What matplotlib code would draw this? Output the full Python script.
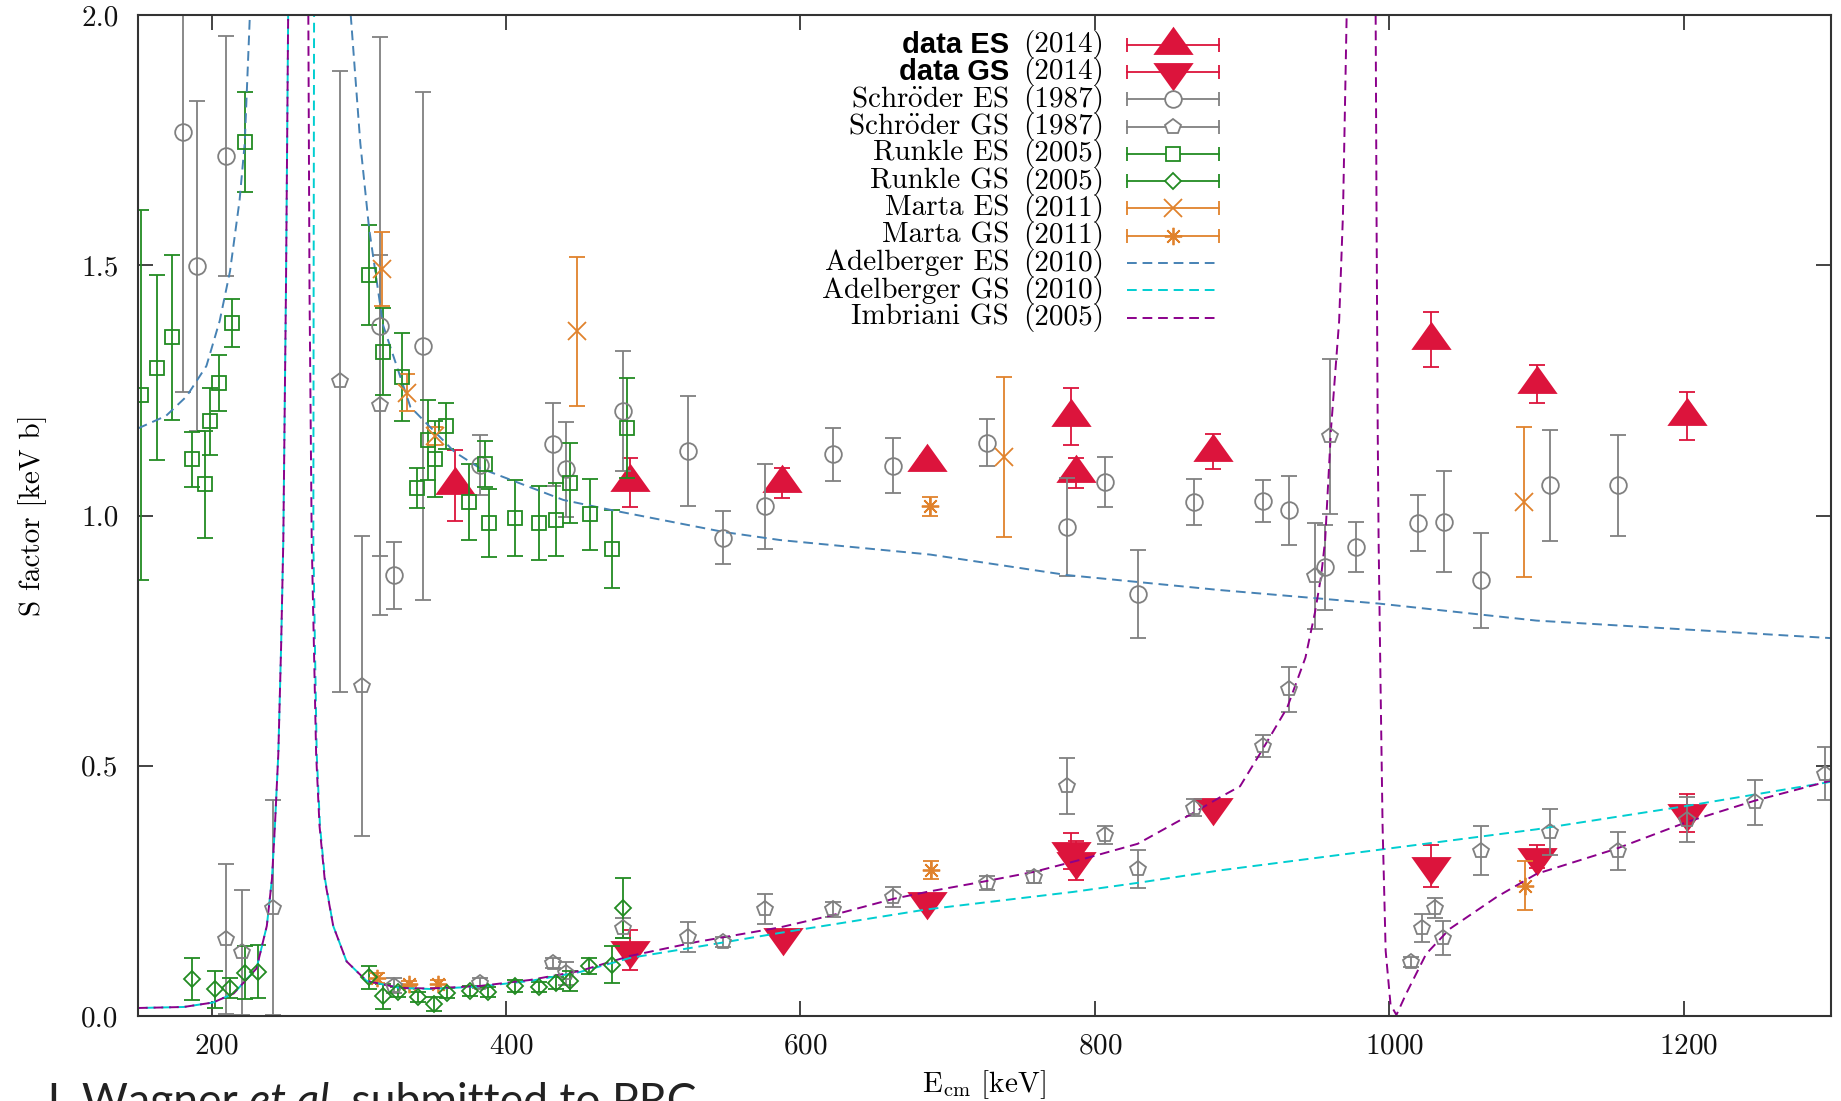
import numpy as np
import matplotlib
matplotlib.use('Agg')
import matplotlib.pyplot as plt
from matplotlib.path import Path
from matplotlib.transforms import ScaledTranslation

plt.rcParams['font.family'] = ['cmr10', 'DejaVu Serif']
plt.rcParams['mathtext.fontset'] = 'cm'
plt.rcParams['axes.formatter.use_mathtext'] = True

nan = np.nan

# ---- measured S factors (E_cm in keV, S in keV b) ----
es14_E = [365, 484, 587.5, 686, 784, 787, 880, 1028, 1100, 1202]
es14_S = [1.06, 1.066, 1.065, 1.106, 1.197, 1.084, 1.127, 1.351, 1.263, 1.199]
es14_dS = [0.071, 0.049, 0.03, 0.012, 0.057, 0.03, 0.035, 0.055, 0.038, 0.048]

gs14_E = [484, 588, 686, 784, 787, 880, 1028, 1100, 1202]
gs14_S = [0.132, 0.157, 0.23, 0.33, 0.31, 0.418, 0.30, 0.318, 0.405]
gs14_dS = [0.04, 0.01, 0.01, 0.036, 0.039, 0.01, 0.042, 0.023, 0.038]

schr_es_E = [180.8, 189.9, 209.8, 314.4, 324.1, 343.4, 382, 431.7, 441, 479.7,
             523.4, 547.6, 576, 622.4, 663.1, 727, 781.3, 807, 829, 867.4,
             913.9, 931.6, 956.4, 977.3, 1019.6, 1037, 1062, 1108.9, 1155.4]
schr_es_S = [1.767, 1.498, 1.718, 1.379, 0.881, 1.339, 1.10, 1.142, 1.092, 1.209,
             1.129, 0.956, 1.018, 1.122, 1.099, 1.145, 0.977, 1.067, 0.844, 1.027,
             1.029, 1.01, 0.897, 0.938, 0.985, 0.988, 0.871, 1.06, 1.06]
schr_es_dS = [0.52, 0.33, 0.24, 0.578, 0.067, 0.507, 0.06, 0.083, 0.095, 0.12,
              0.11, 0.052, 0.085, 0.053, 0.055, 0.047, 0.098, 0.05, 0.088, 0.045,
              0.041, 0.068, 0.085, 0.05, 0.055, 0.1, 0.095, 0.11, 0.1]

schr_gs_E = [209.8, 220.6, 241.9, 287.2, 302.4, 314.4, 324.1, 382.3, 431.7, 441,
             479.7, 523.4, 547.6, 576, 622.4, 663.1, 727, 758.7, 781.3, 807,
             829.1, 867, 913.9, 931.6, 949.6, 959.6, 1015, 1022.3, 1031.1, 1036.5,
             1062, 1108.9, 1155.4, 1202.5, 1248.3, 1296]
schr_gs_S = [0.154, 0.127, 0.216, 1.268, 0.659, 1.22, 0.06, 0.065, 0.105, 0.085,
             0.175, 0.157, 0.148, 0.213, 0.213, 0.238, 0.266, 0.277, 0.46, 0.362,
             0.294, 0.416, 0.539, 0.653, 0.88, 1.158, 0.108, 0.175, 0.216, 0.156,
             0.33, 0.368, 0.33, 0.392, 0.427, 0.484]
schr_gs_dS = [0.15, 0.125, 0.215, 0.62, 0.30, 0.30, 0.015, 0.01, 0.01, 0.023,
              0.02, 0.03, 0.01, 0.03, 0.015, 0.02, 0.014, 0.012, 0.056, 0.018,
              0.038, 0.017, 0.022, 0.045, 0.106, 0.155, 0.01, 0.028, 0.02, 0.034,
              0.049, 0.046, 0.038, 0.045, 0.045, 0.053]

runk_es_E = [151.8, 163.1, 173.3, 186.9, 195.5, 199.2, 204.8, 213.9, 222.7,
             306.9, 316.6, 329.1, 339.3, 347.2, 351.8, 359.2, 375, 385.7, 388.7,
             406.1, 422.4, 433.7, 443.5, 457, 472.2, 482]
runk_es_S = [1.241, 1.295, 1.356, 1.112, 1.062, 1.188, 1.264, 1.384, 1.747,
             1.48, 1.327, 1.277, 1.054, 1.15, 1.113, 1.179, 1.027, 1.102, 0.985,
             0.995, 0.985, 0.992, 1.065, 1.002, 0.933, 1.174]
runk_es_dS = [0.37, 0.185, 0.165, 0.055, 0.106, 0.067, 0.056, 0.048, 0.1,
              0.10, 0.087, 0.088, 0.04, 0.08, 0.076, 0.046, 0.076, 0.046, 0.068,
              0.075, 0.074, 0.072, 0.08, 0.071, 0.078, 0.1]

runk_gs_E = [186.9, 202.3, 212.5, 222.7, 231.8, 307.1, 316.2, 326.8, 340.4, 351.3,
             359.7, 375.5, 388, 406.1, 422.4, 433.8, 443.5, 456.6, 472.2, 479.5]
runk_gs_S = [0.073, 0.053, 0.056, 0.086, 0.088, 0.077, 0.039, 0.048, 0.038, 0.024,
             0.045, 0.05, 0.048, 0.059, 0.058, 0.066, 0.07, 0.1, 0.102, 0.216]
runk_gs_dS = [0.042, 0.037, 0.02, 0.053, 0.053, 0.023, 0.025, 0.01, 0.01, 0.014,
              0.01, 0.01, 0.01, 0.012, 0.01, 0.012, 0.02, 0.016, 0.037, 0.06]

marta_es_E = [315.5, 332.9, 351.8, 448.4, 738.3, 1091.6]
marta_es_S = [1.493, 1.245, 1.158, 1.368, 1.117, 1.027]
marta_es_dS = [0.074, 0.037, 0.018, 0.149, 0.16, 0.15]

marta_gs_E = [312.2, 334.1, 354, 688, 688.7, 1092.3]
marta_gs_S = [0.075, 0.064, 0.064, 1.018, 0.291, 0.26]
marta_gs_dS = [0.01, 0.005, 0.008, 0.018, 0.018, 0.049]

# ---- R-matrix curves ----
adel_es_E = [150, 169, 183, 196.5, 205.5, 212.5, 219, 222.5, 226, nan,
             294.5, 301, 307, 316.5, 335, 365, 382, 407, 439, 473, 548, 586,
             688, 781, 885, 993, 1100, 1300]
adel_es_S = [1.174, 1.199, 1.238, 1.299, 1.389, 1.488, 1.63, 1.744, 2.0, nan,
             2.0, 1.744, 1.573, 1.38, 1.217, 1.127, 1.095, 1.067, 1.031, 1.01,
             0.967, 0.951, 0.922, 0.881, 0.851, 0.824, 0.79, 0.755]

adel_gs_E = [150, 181, 201, 215, 230.5, 237.5, 241, 243, 245.3, 247.2, 248.7,
             250.5, 252, nan, 269.6, 269.3, 269.1, 270.2, 271.4, 273.6, 277, 282.6,
             291.7, 305.3, 328, 348.4, 382.3, 416.3, 450.3, 484.2, 529.5, 586,
             685.8, 785.4, 829, 885, 992.7, 1100, 1202.5, 1300]
adel_gs_S = [0.016, 0.018, 0.027, 0.045, 0.095, 0.18, 0.274, 0.38, 0.523, 0.737,
             0.95, 1.45, 2.0, nan, 2.0, 1.45, 0.95, 0.737, 0.523, 0.38, 0.274,
             0.18, 0.109, 0.07, 0.056, 0.054, 0.059, 0.07, 0.088, 0.116, 0.138,
             0.166, 0.213, 0.248, 0.266, 0.291, 0.332, 0.373, 0.42, 0.468]

imb_E = [150, 181, 201, 215, 230.5, 237.5, 241, 243, 245.3, 247.2, 248.7, 250.5,
         252, nan, 265.7, 266.5, 268, 269.5, 271, 273.3, 276.8, 282.6, 291.7,
         305.3, 328, 348.4, 382.3, 416.3, 450.3, 484.2, 529.5, 586, 622.4, 663,
         686, 727, 758.7, 790, 829, 867, 885, 898.6, 911.9, 930.6, 943, 949.6,
         953.7, 956.4, 960.4, 965.9, 968.5, 971, nan, 990.7, 991.3, 992.1, 992.7,
         994, 995.4, 997.5, 1000.8, 1004.8, 1011.5, 1025, 1041, 1073, 1100, 1154,
         1202.5, 1248, 1299.6]
imb_S = [0.016, 0.018, 0.027, 0.045, 0.095, 0.18, 0.274, 0.38, 0.523, 0.737,
         0.95, 1.45, 2.0, nan, 2.0, 1.45, 0.95, 0.737, 0.523, 0.38, 0.274, 0.18,
         0.109, 0.07, 0.056, 0.055, 0.06, 0.072, 0.09, 0.12, 0.148, 0.177, 0.202,
         0.234, 0.248, 0.27, 0.288, 0.312, 0.344, 0.406, 0.437, 0.459, 0.523,
         0.616, 0.716, 0.808, 0.88, 0.951, 1.174, 1.389, 1.602, 2.0, nan, 2.0,
         1.6, 1.17, 0.951, 0.666, 0.38, 0.13, 0.023, 0.002, 0.045, 0.124, 0.174,
         0.238, 0.284, 0.334, 0.388, 0.43, 0.47]

red = '#dc143c'
gray = '#808080'
green = '#228b22'
orange = '#e0822c'
steel = '#4682b4'
turq = '#00ced1'
magenta = '#8b008b'

# gnuplot style triangles (centroid on the data point)
tri_up = Path([(0, 0.933), (-1, -0.467), (1, -0.467), (0, 0.933)],
              [Path.MOVETO, Path.LINETO, Path.LINETO, Path.CLOSEPOLY])
tri_dn = Path([(0, -0.933), (-1, 0.467), (1, 0.467), (0, -0.933)],
              [Path.MOVETO, Path.LINETO, Path.LINETO, Path.CLOSEPOLY])
aster = (8, 2, 0)

W, H = 1841, 1101
fig = plt.figure(figsize=(W / 100, H / 100), dpi=100)
x0, x1, y0, y1 = 138, 1831, 15, 1016
ax = fig.add_axes([x0 / W, 1 - y1 / H, (x1 - x0) / W, (y1 - y0) / H])

eb = dict(elinewidth=1.3, capsize=6, capthick=1.3, mew=1.3)
ax.errorbar(es14_E, es14_S, yerr=es14_dS, fmt='none', ecolor=red, **eb)
ax.plot(es14_E, es14_S, ls='none', marker=tri_up, ms=29, color=red, mew=0)
ax.errorbar(gs14_E, gs14_S, yerr=gs14_dS, fmt='none', ecolor=red, **eb)
ax.plot(gs14_E, gs14_S, ls='none', marker=tri_dn, ms=29, color=red, mew=0)

ax.errorbar(schr_es_E, schr_es_S, yerr=schr_es_dS, fmt='o', ms=12, mfc='none',
            mec=gray, ecolor=gray, **eb)
ax.errorbar(schr_gs_E, schr_gs_S, yerr=schr_gs_dS, fmt='p', ms=11.5, mfc='none',
            mec=gray, ecolor=gray, **eb)
ax.errorbar(runk_es_E, runk_es_S, yerr=runk_es_dS, fmt='s', ms=10, mfc='none',
            mec=green, ecolor=green, **eb)
ax.errorbar(runk_gs_E, runk_gs_S, yerr=runk_gs_dS, fmt='D', ms=8.5, mfc='none',
            mec=green, ecolor=green, **eb)
ax.errorbar(marta_es_E, marta_es_S, yerr=marta_es_dS, fmt='x', ms=12.5,
            mec=orange, ecolor=orange, **eb)
ax.errorbar(marta_gs_E, marta_gs_S, yerr=marta_gs_dS, fmt='none', ecolor=orange, **eb)
ax.plot(marta_gs_E, marta_gs_S, ls='none', marker=aster, ms=12.5, mec=orange, mew=1.3)

ax.plot(adel_es_E, adel_es_S, color=steel, lw=1.4, ls=(0, (5, 3)))
ax.plot(adel_gs_E, adel_gs_S, color=turq, lw=1.4, ls=(4, (5, 3)))
ax.plot(imb_E, imb_S, color=magenta, lw=1.4, ls=(0, (5, 3)))

ax.set_xlim(150, 1300)
ax.set_ylim(0, 2)
ax.set_xticks([200, 400, 600, 800, 1000, 1200])
ax.set_yticks([0, 0.5, 1.0, 1.5, 2.0])
ax.yaxis.set_major_formatter(matplotlib.ticker.FormatStrFormatter('%.1f'))
ax.tick_params(direction='in', length=11, width=1.1, top=True, right=True,
               labelsize=21, colors='#111111')
ax.tick_params(axis='x', pad=12)
ax.tick_params(axis='y', pad=14)
for s in ax.spines.values():
    s.set_linewidth(1.5)
    s.set_color('#333333')
shift = ScaledTranslation(5 / 100, 0, fig.dpi_scale_trans)
for lab in ax.get_xticklabels():
    lab.set_transform(lab.get_transform() + shift)

fig.text(33 / W, 1 - 515 / H, 'S factor [keV b]', rotation=90, fontsize=21,
         ha='center', va='center')
fig.text(984 / W, 1 - 1092 / H, r'E$_{\rm cm}$ [keV]', fontsize=21,
         ha='center', va='baseline')

# key, drawn in pixel positions of the axes box
def ax_pt(px, py):
    return (px - x0) / (x1 - x0), (y1 - py) / (y1 - y0)

key = [
    ('data ES', '(2014)', red, tri_up, 29, True, 'bar', None),
    ('data GS', '(2014)', red, tri_dn, 29, True, 'bar', None),
    (r'Schr$\ddot{\rm o}$der ES', '(1987)', gray, 'o', 12, False, 'bar', None),
    (r'Schr$\ddot{\rm o}$der GS', '(1987)', gray, 'p', 11.5, False, 'bar', None),
    ('Runkle ES', '(2005)', green, 's', 10, False, 'bar', None),
    ('Runkle GS', '(2005)', green, 'D', 8.5, False, 'bar', None),
    ('Marta ES', '(2011)', orange, 'x', 12.5, False, 'bar', None),
    ('Marta GS', '(2011)', orange, aster, 12.5, False, 'bar', None),
    ('Adelberger ES', '(2010)', steel, None, 0, False, 'dash', (0, (5, 3))),
    ('Adelberger GS', '(2010)', turq, None, 0, False, 'dash', (0, (5, 3))),
    ('Imbriani GS', '(2005)', magenta, None, 0, False, 'dash', (0, (5, 3))),
]
for i, (name, year, col, mk, ms, filled, kind, ls) in enumerate(key):
    py = 44.6 + 27.3 * i
    tx, ty = ax_pt(1009, py)
    if name.startswith('data'):
        ax.text(tx, ty, name, transform=ax.transAxes, ha='right', va='center',
                fontsize=21, fontweight='bold', family='Liberation Sans')
    else:
        ax.text(tx, ty, name, transform=ax.transAxes, ha='right', va='center',
                fontsize=21)
    yx, _ = ax_pt(1023, py)
    ax.text(yx, ty, year, transform=ax.transAxes, ha='left', va='center', fontsize=21)
    la, _ = ax_pt(1127, py)
    lb, _ = ax_pt(1219, py)
    lc, _ = ax_pt(1173, py)
    if kind == 'bar':
        ax.plot([la, lb], [ty, ty], color=col, lw=1.3, marker='|', ms=10, mew=1.3,
                transform=ax.transAxes, clip_on=False)
        if filled:
            ax.plot([lc], [ty], marker=mk, ms=ms, color=col, mew=0,
                    transform=ax.transAxes, clip_on=False)
        else:
            ax.plot([lc], [ty], marker=mk, ms=ms, mfc='white', mec=col, mew=1.3,
                    transform=ax.transAxes, clip_on=False)
    else:
        ax.plot([la, lb], [ty, ty], color=col, lw=1.4, ls=ls, transform=ax.transAxes)

# citation line along the bottom edge
fig.canvas.draw()
rend = fig.canvas.get_renderer()
bx, by = 41 / W, 1 - 1115 / H
parts = [('J. Wagner ', 'normal'), ('et al.', 'italic'), (' submitted to PRC', 'normal')]
for txt, sty in parts:
    t = fig.text(bx, by, txt, fontsize=32, family='Lato', style=sty, va='baseline',
                 color='#222222')
    bb = t.get_window_extent(rend)
    bx = bb.x1 / W

fig.savefig('out.png', dpi=100)
